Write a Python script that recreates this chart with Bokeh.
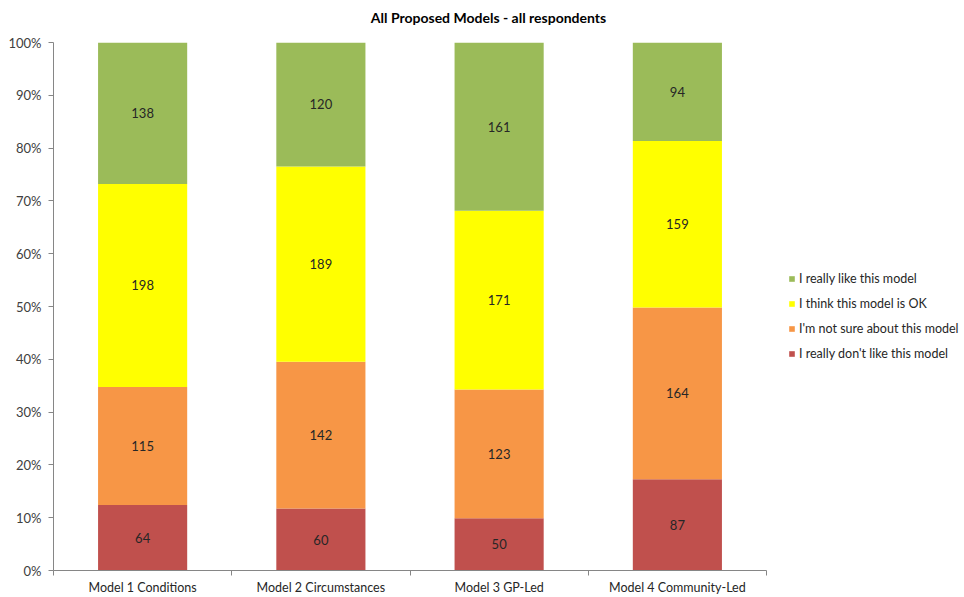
import numpy as np
from bokeh.plotting import figure
from bokeh.models import (Range1d, FixedTicker, NumeralTickFormatter, Legend, LegendItem,
                          Label, ColumnDataSource)
from bokeh.core.properties import value
from bokeh.embed import file_html
from bokeh.resources import INLINE

models = ["Model 1 Conditions", "Model 2 Circumstances", "Model 3 GP-Led", "Model 4 Community-Led"]
series = ["I really don't like this model", "I'm not sure about this model",
          "I think this model is OK", "I really like this model"]
dont_like = [64, 60, 50, 87]
not_sure = [115, 142, 123, 164]
ok = [198, 189, 171, 159]
like = [138, 120, 161, 94]
colors = ["#C0504D", "#F79646", "#FFFF00", "#9BBB59"]
y_ticks = [0, 0.1, 0.2, 0.3, 0.4, 0.5, 0.6, 0.7, 0.8, 0.9, 1.0]

FONT = "Lato"
W, H = 964, 597
LEFT, AXIS_RIGHT = 53, 766   # pixel extent of the category axis

counts = np.array([dont_like, not_sure, ok, like], dtype=float)
totals = counts.sum(axis=0)
shares = counts / totals
n = len(models)
x = np.arange(n) + 0.5

data = {"x": x}
keys = ["s0", "s1", "s2", "s3"]
for k, row in zip(keys, shares):
    data[k] = row
src = ColumnDataSource(data)

# frame extends to the right edge so the legend can live inside it
x_end = n * (W - LEFT) / (AXIS_RIGHT - LEFT)
p = figure(width=W, height=H, output_backend="svg", toolbar_location=None,
           x_range=Range1d(0, x_end), y_range=Range1d(0, 1),
           min_border_left=LEFT, min_border_right=0, min_border_top=42, min_border_bottom=26)
p.outline_line_color = None
p.xgrid.grid_line_color = None
p.ygrid.grid_line_color = None
p.background_fill_color = "white"
p.border_fill_color = "white"

renderers = p.vbar_stack(keys, x="x", width=0.5, source=src, color=colors, line_color=None)

# value labels
lab_x, lab_y, lab_t = [], [], []
cum = np.cumsum(shares, axis=0)
for i in range(shares.shape[0]):
    for j in range(shares.shape[1]):
        lab_x.append(x[j])
        lab_y.append(cum[i, j] - shares[i, j] / 2)
        lab_t.append(str(int(counts[i, j])))
p.text(x=lab_x, y=lab_y, text=lab_t, text_align="center", text_baseline="middle",
       text_font=value(FONT), text_font_size="13px", text_color="#262626")

# axes
grey = "#868686"
p.yaxis.ticker = FixedTicker(ticks=y_ticks)
p.yaxis.formatter = NumeralTickFormatter(format="0%")
p.yaxis.axis_line_color = grey
p.yaxis.major_tick_line_color = grey
p.yaxis.major_tick_out = 5
p.yaxis.major_tick_in = 0
p.yaxis.minor_tick_line_color = None
p.yaxis.major_label_standoff = 7
p.yaxis.major_label_text_font = FONT
p.yaxis.major_label_text_font_size = "13px"
p.yaxis.major_label_text_color = "#404040"

p.xaxis.bounds = (0, n)
p.xaxis.ticker = FixedTicker(ticks=list(x), minor_ticks=list(np.arange(n + 1)))
p.xaxis.major_label_overrides = {float(v): m for v, m in zip(x, models)}
p.xaxis.axis_line_color = grey
p.xaxis.major_tick_line_color = None
p.xaxis.major_tick_out = 0
p.xaxis.major_tick_in = 0
p.xaxis.minor_tick_line_color = grey
p.xaxis.minor_tick_out = 5
p.xaxis.minor_tick_in = 0
p.xaxis.major_label_standoff = 4
p.xaxis.major_label_text_font = FONT
p.xaxis.major_label_text_font_size = "12.5px"
p.xaxis.major_label_text_color = "#262626"

# legend
items = [LegendItem(label=s, renderers=[r]) for s, r in zip(series, renderers)][::-1]
legend = Legend(items=items, location=(735, 207), glyph_width=7, glyph_height=7,
                label_height=20, spacing=5, padding=0, margin=0, label_standoff=4,
                label_text_font=FONT, label_text_font_size="12.5px", label_text_color="#262626",
                border_line_color=None, background_fill_alpha=0)
p.add_layout(legend, "center")

# title
title = Label(x=435, y=25, x_units="screen", y_units="screen",
              text="All Proposed Models - all respondents", text_align="center",
              text_baseline="middle", text_font=FONT, text_font_style="bold",
              text_font_size="14px", text_color="#000000")
p.add_layout(title, "above")

open("out.html", "w").write(file_html(p, INLINE))
